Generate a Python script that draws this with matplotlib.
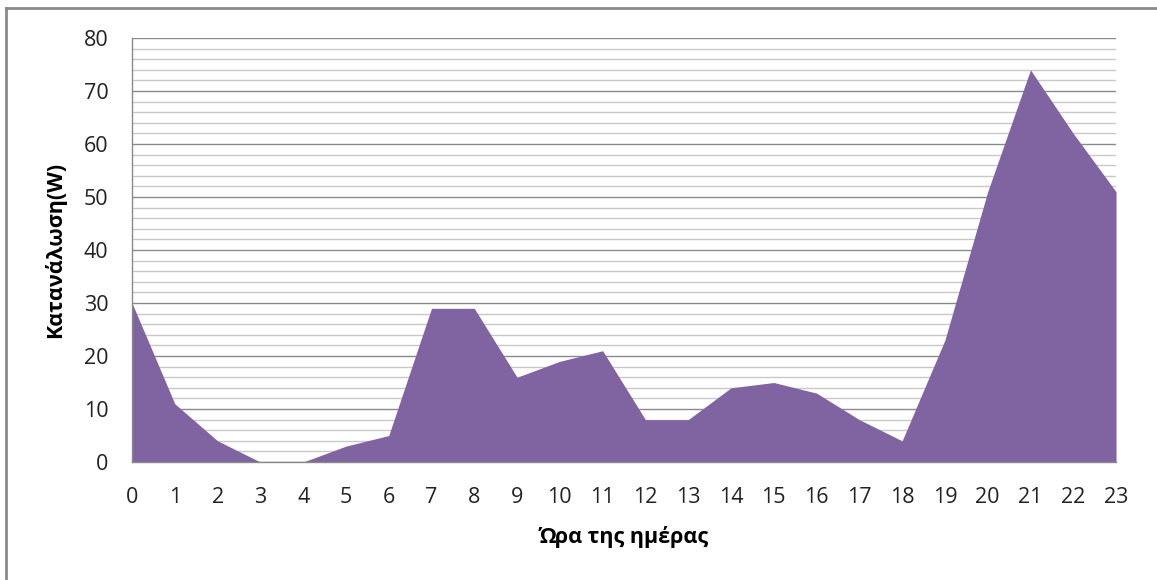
import matplotlib.pyplot as plt
from matplotlib.lines import Line2D
from matplotlib.ticker import MultipleLocator

# Data
hours = list(range(24))
consumption = [30, 11, 4, 0, 0, 3, 5, 29, 29, 16, 19, 21, 8, 8, 14, 15, 13, 8, 4, 23, 51, 74, 62, 51]
y_ticks = [0, 10, 20, 30, 40, 50, 60, 70, 80]

plt.rcParams['font.family'] = ['Open Sans', 'DejaVu Sans']

fig = plt.figure(figsize=(11.57, 5.80), dpi=100)
ax = fig.add_axes([0.1141, 0.2034, 0.8505, 0.7311])

ax.fill_between(hours, consumption, 0, color='#8064A2', linewidth=0, zorder=3)

ax.set_xlim(0, 23)
ax.set_ylim(0, 80)
ax.set_xticks(hours)
ax.set_yticks(y_ticks)
ax.yaxis.set_minor_locator(MultipleLocator(2))

ax.grid(which='major', axis='y', color='#8a8a8a', linewidth=1.0, zorder=1)
ax.grid(which='minor', axis='y', color='#c8c8c8', linewidth=1.0, zorder=1)
ax.grid(which='major', axis='x', visible=False)

for side in ['top', 'right']:
    ax.spines[side].set_visible(False)
for side in ['left', 'bottom']:
    ax.spines[side].set_color('#8a8a8a')
    ax.spines[side].set_linewidth(1.0)
    ax.spines[side].set_zorder(4)

ax.tick_params(axis='both', which='both', length=0, labelsize=15.5, colors='#222222')
ax.tick_params(axis='x', pad=18)
ax.tick_params(axis='y', pad=17)

ax.set_xlabel('Ώρα της ημέρας', fontsize=15.5, fontweight='bold')
ax.set_ylabel('Κατανάλωση(W)', fontsize=15.5, fontweight='bold')
ax.xaxis.set_label_coords(0.5, -0.150)
ax.yaxis.set_label_coords(-0.067, 0.5)

# outer chart border (left and top only visible)
fig.add_artist(Line2D([6/1157, 6/1157], [0, 1 - 8/580], transform=fig.transFigure,
                      color='#8a8a8a', linewidth=2))
fig.add_artist(Line2D([6/1157, 1], [1 - 8/580, 1 - 8/580], transform=fig.transFigure,
                      color='#8a8a8a', linewidth=2))

fig.savefig('out.png', dpi=100)
